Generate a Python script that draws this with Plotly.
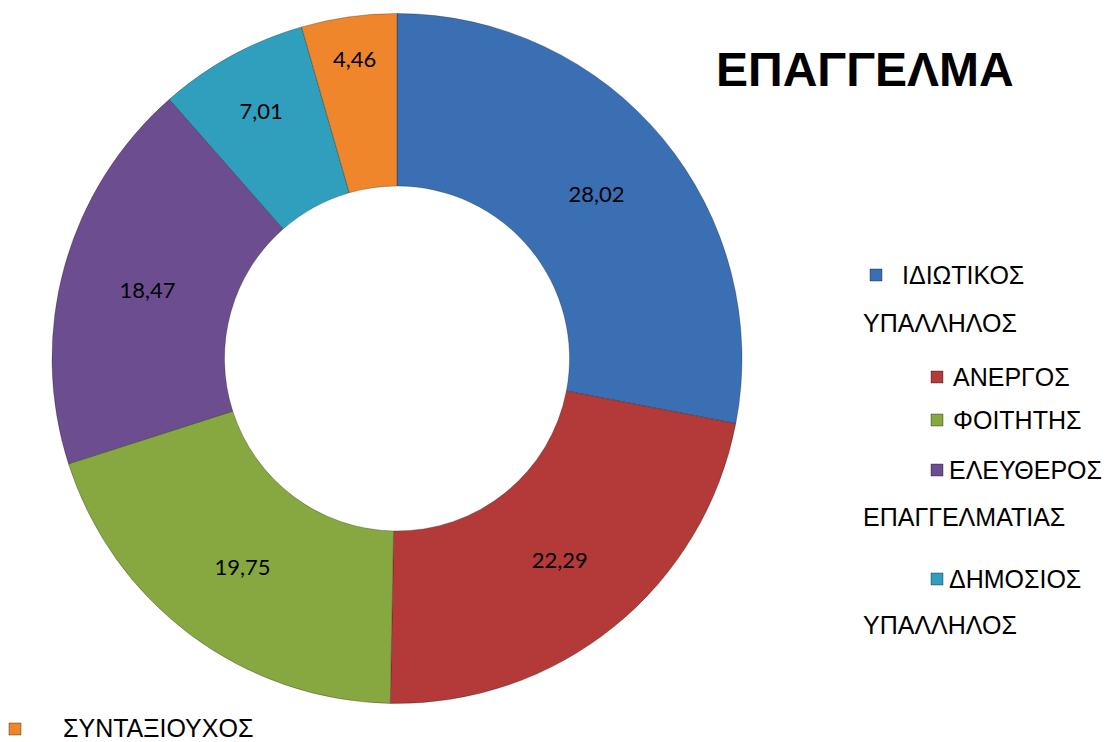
import plotly.graph_objects as go

# data
labels = ["ΙΔΙΩΤΙΚΟΣ ΥΠΑΛΛΗΛΟΣ", "ΑΝΕΡΓΟΣ", "ΦΟΙΤΗΤΗΣ",
          "ΕΛΕΥΘΕΡΟΣ ΕΠΑΓΓΕΛΜΑΤΙΑΣ", "ΔΗΜΟΣΙΟΣ ΥΠΑΛΛΗΛΟΣ", "ΣΥΝΤΑΞΙΟΥΧΟΣ"]
values = [28.02, 22.29, 19.75, 18.47, 7.01, 4.46]
colors = ["#3b6fb3", "#b33a38", "#87a840", "#6c4d8f", "#2f9fbd", "#f0862b"]
title = "ΕΠΑΓΓΕΛΜΑ"

W, H = 1109, 742

fig = go.Figure(go.Pie(
    labels=labels,
    values=values,
    hole=0.5,
    sort=False,
    direction="clockwise",
    rotation=0,
    marker=dict(colors=colors, line=dict(color="rgba(0,0,0,0.25)", width=1)),
    texttemplate="%{value:.2f}",
    textposition="inside",
    insidetextorientation="horizontal",
    textfont=dict(family="Lato, Open Sans, sans-serif", size=22, color="black"),
    domain=dict(x=[52 / W, 742 / W], y=[1 - 705 / H, 1 - 12 / H]),
    showlegend=False,
))

# hand-placed legend, mimicking the wrapped layout of the original
# (marker x, marker y, text x, text y of first word, second line y)
legend_pos = [
    (876, 275, 900, 275, 323),
    (937, 377, 951, 377, None),
    (937, 420, 951, 420, None),
    (937, 470, 947, 470, 517),
    (937, 579, 947, 579, 625),
    (15, 729, 61, 728, None),
]

shapes = []
annotations = [dict(
    text=f"<b>{title}</b>", x=865 / W, y=1 - 70 / H, xref="paper", yref="paper",
    showarrow=False, font=dict(family="Liberation Sans, Arial", size=48, color="black"),
    xanchor="center", yanchor="middle",
)]
font_leg = dict(family="Liberation Sans, Arial", size=25, color="black")
for lab, col, (mx, my, tx, ty, y2) in zip(labels, colors, legend_pos):
    s = 6
    shapes.append(dict(type="rect", xref="paper", yref="paper",
                       x0=(mx - s) / W, x1=(mx + s) / W,
                       y0=1 - (my + s) / H, y1=1 - (my - s) / H,
                       fillcolor=col, line=dict(color="rgba(0,0,0,0.35)", width=1)))
    words = lab.split(" ", 1)
    annotations.append(dict(text=words[0], x=tx / W, y=1 - ty / H, xref="paper", yref="paper",
                            showarrow=False, xanchor="left", yanchor="middle", font=font_leg))
    if len(words) > 1 and y2 is not None:
        annotations.append(dict(text=words[1], x=861 / W, y=1 - y2 / H, xref="paper", yref="paper",
                                showarrow=False, xanchor="left", yanchor="middle", font=font_leg))

fig.update_layout(
    width=W, height=H,
    margin=dict(l=0, r=0, t=0, b=0),
    paper_bgcolor="white",
    plot_bgcolor="white",
    separators=",.",
    shapes=shapes,
    annotations=annotations,
)

# drop the default body margin so the figure sits at the window's corner
fig.write_html("out.html", config={"displayModeBar": False},
               post_script="document.body.style.margin='0';")
